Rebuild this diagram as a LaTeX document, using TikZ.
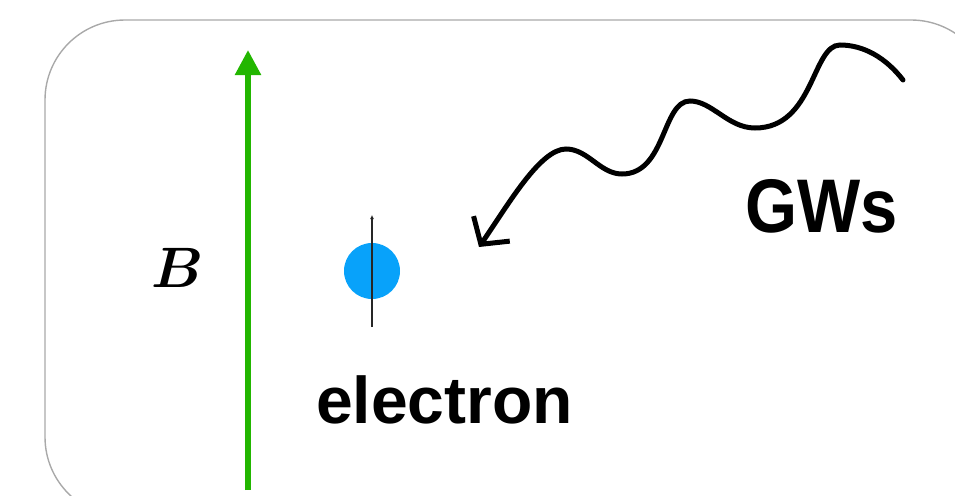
\documentclass[tikz,border=0pt]{standalone}
\usepackage{fontspec}
\newfontfamily\lsans{Liberation Sans}
\usetikzlibrary{arrows.meta}
\definecolor{fieldgreen}{HTML}{22B600}
\definecolor{eblue}{HTML}{08A2FA}
\definecolor{framegray}{HTML}{A9A9A9}
\newsavebox{\boldBbox}
\sbox{\boldBbox}{\boldmath$B$}
\tikzset{
  frame/.style={draw=framegray, line width=1.4pt, rounded corners=80pt},
  fieldarrow/.style={draw=fieldgreen, line width=5.5pt, -{Triangle[length=25pt,width=25pt]}},
  spin/.style={draw=black!85, line width=1.2pt, -{Latex[length=4pt,width=4pt]}},
  wave/.style={draw=black, line cap=round, -{Straight Barb[length=19pt,width=44pt]}},
  bigtext/.style={inner sep=0pt, font=\lsans\bfseries}
}
\begin{document}
\begin{tikzpicture}[x=1pt,y=-1pt]
\useasboundingbox (0,0) rectangle (955,495);
\begin{scope}
\clip (0,0) rectangle (955,495);
\draw[frame] (45,20) rectangle (991,517);
\end{scope}
% magnetic field
\coordinate (bbot) at (248,490);
\coordinate (btop) at (248,50);
\draw[fieldarrow] (bbot) -- (btop);
\node[scale=5.7, inner sep=0pt] (blabel) at (178,268) {\usebox{\boldBbox}};
% electron
\node[circle, fill=eblue, minimum size=56pt, inner sep=0pt] (electron) at (372,271) {};
\coordinate (sbot) at (372,327);
\coordinate (stop) at (372,215);
\draw[spin] (sbot) -- (stop);
\node[bigtext, anchor=base west, font=\lsans\bfseries\fontsize{66}{70}\selectfont] (elabel) at (316,423) {electron};
% gravitational wave
\coordinate (wstart) at (903,80);
\coordinate (wtip) at (479,247);
\draw[wave, line width=5pt] (wstart) .. controls (886,58) and (864,45) .. (840,45)
  .. controls (812,45) and (814,128) .. (755,128)
  .. controls (728,128) and (712,101) .. (690,101)
  .. controls (662,101) and (666,174) .. (622,174)
  .. controls (600,174) and (588,149) .. (566,149)
  .. controls (540,149) and (508,205) .. (wtip);
\node[bigtext, anchor=base west, xscale=0.88, font=\lsans\bfseries\fontsize{76}{80}\selectfont] (gw) at (745,232) {GWs};
\end{tikzpicture}
\end{document}
